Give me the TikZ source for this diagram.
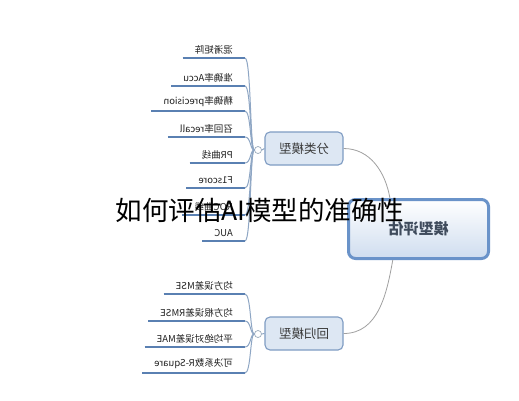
\documentclass[tikz,border=0pt]{standalone}
\usepackage{fontspec}
\usepackage{graphicx}
\setmainfont{Noto Sans CJK SC}
\usetikzlibrary{calc}
\definecolor{leafline}{HTML}{5A80B2}
\definecolor{leaftext}{HTML}{222222}
\definecolor{spinecol}{HTML}{8EA6C4}
\definecolor{knobcol}{HTML}{9AAABB}
\definecolor{branchline}{HTML}{7F9CC3}
\definecolor{branchfill}{HTML}{DDE7F3}
\definecolor{branchtext}{HTML}{3A3A3A}
\definecolor{rootline}{HTML}{6A93C9}
\definecolor{rootfill}{HTML}{CFDDEF}
\definecolor{roottext}{HTML}{3F4B5C}
\definecolor{linkcol}{HTML}{A0A0A0}
\begin{document}
\begin{tikzpicture}[x=1pt,y=-1pt,
  leaf/.style={anchor=south east, inner xsep=12pt, inner ysep=4pt,
    font=\fontsize{9.5}{11}\selectfont, text=leaftext},
  uline/.style={draw=leafline, line width=2pt},
  spine/.style={draw=spinecol, line width=1pt},
  knob/.style={circle, draw=knobcol, fill=white, minimum size=7pt,
    inner sep=0pt, line width=0.7pt},
  branch/.style={rounded corners=5pt, draw=branchline, fill=branchfill,
    line width=1.1pt, minimum width=78pt, minimum height=33pt,
    font=\fontsize{12.5}{14}\selectfont, text=branchtext},
  root/.style={rounded corners=7pt, draw=rootline, line width=3pt,
    top color=white, bottom color=rootfill, minimum width=140pt,
    minimum height=59pt, font=\bfseries\fontsize{15}{17}\selectfont, text=roottext},
  link/.style={draw=linkcol, line width=0.8pt},
  title/.style={font=\fontsize{26.5}{29}\selectfont, text=black, inner sep=0pt}]
\fill[white] (0,0) rectangle (519,400);
\useasboundingbox (0,0) rectangle (519,400);

% root and branches
\node[root] (ctr) at (418.5,229) {\reflectbox{模型评估}};
\node[branch] (cls) at (304,148.5) {\reflectbox{分类模型}};
\node[branch] (reg) at (304,333.5) {\reflectbox{回归模型}};
\node[knob] (k1) at (258,150) {};
\node[knob] (k2) at (258,334) {};

% classification leaves
\node[leaf] (a1) at (245,58)  {\reflectbox{混淆矩阵}};
\node[leaf] (a2) at (245,86)  {\reflectbox{准确率Accu}};
\node[leaf] (a3) at (245,111) {\reflectbox{精确率precision}};
\node[leaf] (a4) at (245,137) {\reflectbox{召回率recall}};
\node[leaf] (a5) at (245,163) {\reflectbox{PR曲线}};
\node[leaf] (a6) at (245,188) {\reflectbox{F1score}};
\node[leaf] (a7) at (245,215) {\reflectbox{ROC曲线}};
\node[leaf] (a8) at (245,241) {\reflectbox{AUC}};

% regression leaves
\node[leaf] (b1) at (245,294) {\reflectbox{均方误差MSE}};
\node[leaf] (b2) at (245,321) {\reflectbox{均方根误差RMSE}};
\node[leaf] (b3) at (245,347) {\reflectbox{平均绝对误差MAE}};
\node[leaf] (b4) at (245,373) {\reflectbox{可决系数R-Square}};

% underlines
\foreach \n in {a1,a2,a3,a4,a5,a6,a7,a8,b1,b2,b3,b4}
  \draw[uline] (\n.south west) -- (\n.south east);

% spines
\foreach \n in {a1,a2,a3,a4,a5,a6,a7,a8}
  \draw[spine] (k1.west) .. controls +(-4,0) and +(6,0) .. (\n.south east);
\foreach \n in {b1,b2,b3,b4}
  \draw[spine] (k2.west) .. controls +(-4,0) and +(6,0) .. (\n.south east);
\draw[spine] (k1.east) -- (cls.west);
\draw[spine] (k2.east) -- (reg.west);

% main links
\draw[link] (cls.east) to[out=0,in=100] ($(ctr.north west)!0.3!(ctr.north east)$);
\draw[link] (reg.east) to[out=0,in=-100] ($(ctr.south west)!0.32!(ctr.south east)$);

% overlay title
\node[title] (ttl) at (260,210) {如何评估AI模型的准确性};
\end{tikzpicture}
\end{document}
